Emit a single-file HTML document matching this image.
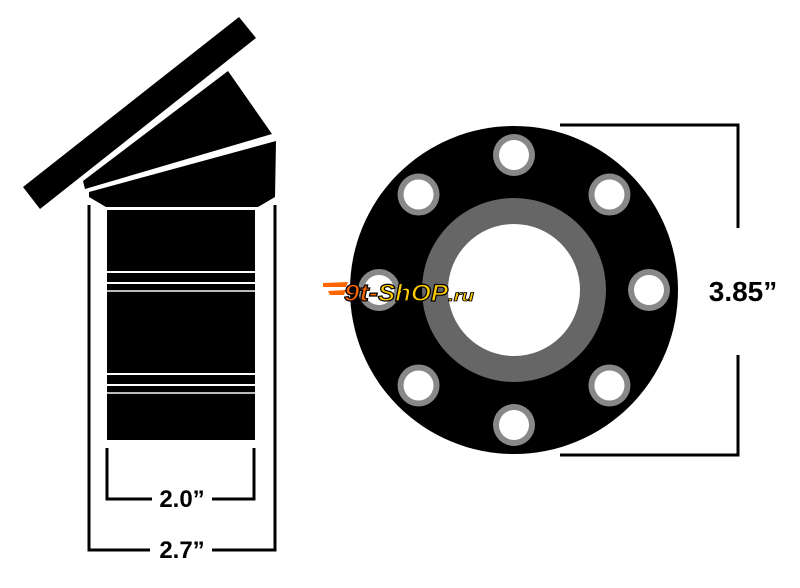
<!DOCTYPE html>
<html><head><style>body{margin:0;background:#fff}</style></head><body>
<svg width="800" height="583" viewBox="0 0 800 583" xmlns="http://www.w3.org/2000/svg">
<rect width="800" height="583" fill="#fff"/>
<polygon points="239,17 256,38 40,209 23,187" fill="#000"/>
<polygon points="83,181 228,71 272,134 85,189" fill="#000"/>
<polygon points="89,192 276,141 275,197 258,207 106,207 89,197" fill="#000"/>
<rect x="107" y="210" width="148" height="230" fill="#000"/>
<g fill="#fff"><rect x="107" y="271" width="148" height="2"/><rect x="107" y="282" width="148" height="2"/><rect x="107" y="290" width="148" height="2" fill="#bbb"/>
<rect x="107" y="373" width="148" height="2"/><rect x="107" y="384" width="148" height="2"/><rect x="107" y="392" width="148" height="2" fill="#bbb"/></g>
<g stroke="#000" stroke-width="3" fill="none">
<path d="M89,205 V550 H150 M212,550 H275 V205"/>
<path d="M107,448 V499 H152 M212,499 H254 V448"/>
<path d="M560,125 H738 V228 M738,355 V455 H560"/>
</g>
<g font-family="Liberation Sans, sans-serif" font-weight="bold" font-size="24" text-anchor="middle" fill="#000">
<text x="182" y="507">2.0”</text>
<text x="182" y="558">2.7”</text>
<text x="743" y="301" font-size="28">3.85”</text>
</g>
<circle cx="514" cy="290" r="164" fill="#000"/>
<circle cx="514" cy="290" r="92" fill="#666"/>
<circle cx="514" cy="290" r="66" fill="#fff"/>
<g transform="translate(514,290)">
<g id="b"><circle cx="0" cy="-135" r="21" fill="#888"/><circle cx="0" cy="-135" r="15" fill="#fff"/></g>
<use href="#b" transform="rotate(45)"/><use href="#b" transform="rotate(90)"/><use href="#b" transform="rotate(135)"/>
<use href="#b" transform="rotate(180)"/><use href="#b" transform="rotate(225)"/><use href="#b" transform="rotate(270)"/><use href="#b" transform="rotate(315)"/>
</g>
<g font-family="Liberation Sans, sans-serif" font-weight="bold" font-style="italic">
<path d="M323,283 L348,282 L346,287 L323,287 Z M328,291 L346,290 L344,295 L330,295 Z" fill="#f60"/>
<text x="344" y="301" font-size="24" textLength="34" lengthAdjust="spacingAndGlyphs" fill="#f60" stroke="#000" stroke-width="1.2">9t-</text>
<text x="378" y="301" font-size="24" textLength="70" lengthAdjust="spacingAndGlyphs" fill="#fc0" stroke="#000" stroke-width="1.2">ShOP</text>
<text x="448" y="301" font-size="16" textLength="26" lengthAdjust="spacingAndGlyphs" fill="#fc0" stroke="#000" stroke-width=".8">.ru</text>
</g>
</svg>
</body></html>
